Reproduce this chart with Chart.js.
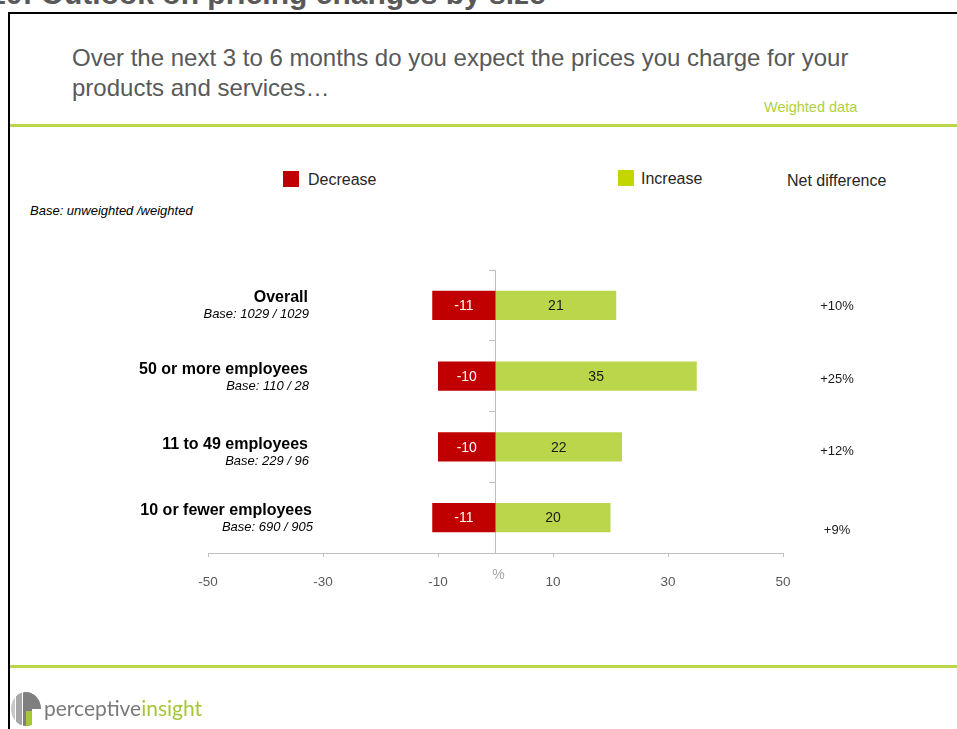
<!DOCTYPE html>
<html>
<head>
<meta charset="utf-8">
<script src="https://cdn.jsdelivr.net/npm/chart.js@4.4.1/dist/chart.umd.min.js"></script>
<style>
  html, body { margin: 0; padding: 0; background: #fff; }
  body { width: 957px; height: 729px; position: relative; overflow: hidden; font-family: Arial, "Liberation Sans", sans-serif; }
  #chart { position: absolute; left: 0; top: 0; }
  .abs { position: absolute; white-space: nowrap; }
  .frame-top { position: absolute; left: 8px; top: 12px; width: 949px; height: 2px; background: #000; }
  .frame-left { position: absolute; left: 8px; top: 12px; width: 2px; height: 717px; background: #000; }
  .rule { position: absolute; left: 10px; width: 947px; height: 3px; background: #bcd64b; }
  .swatch { position: absolute; width: 16px; height: 16px; }
</style>
</head>
<body>
<div class="abs" style="left:-36px; top:-21px; font-size:30px; line-height:30px; font-weight:bold; color:#595959;">4.10: Outlook on pricing changes by size</div>
<div class="frame-top"></div>
<div class="frame-left"></div>

<div class="abs" style="left:72px; top:43px; font-size:24px; line-height:30px; color:#595959;">Over the next 3 to 6 months do you expect the prices you charge for your<br>products and services…</div>
<div class="abs" style="left:764px; top:99px; font-size:14.5px; line-height:16px; color:#b2cf3f;">Weighted data</div>
<div class="rule" style="top:124px;"></div>

<div class="swatch" style="left:283px; top:171px; background:#c00000;"></div>
<div class="abs" style="left:308px; top:171px; font-size:16px; line-height:18px; color:#262626;">Decrease</div>
<div class="swatch" style="left:618px; top:170px; background:#c4d600;"></div>
<div class="abs" style="left:641px; top:170px; font-size:16px; line-height:18px; color:#262626;">Increase</div>
<div class="abs" style="left:787px; top:172px; font-size:16px; line-height:18px; color:#262626;">Net difference</div>
<div class="abs" style="left:30px; top:203px; font-size:13px; line-height:16px; font-style:italic; color:#000;">Base: unweighted /weighted</div>

<canvas id="chart" width="957" height="729"></canvas>

<div class="rule" style="top:665px;"></div>
<svg class="abs" style="left:10px; top:691px;" width="32" height="36" viewBox="0 0 32 36">
  <defs><clipPath id="c"><ellipse cx="16" cy="18" rx="15" ry="17"/></clipPath></defs>
  <g clip-path="url(#c)">
    <rect x="0" y="0" width="5" height="36" fill="#c8c8c8"/>
    <rect x="6" y="0" width="6" height="36" fill="#a6a6a6"/>
    <rect x="13" y="0" width="9" height="36" fill="#7f7f7f"/>
    <rect x="22" y="3" width="9" height="15" fill="#7f7f7f"/>
    <rect x="16" y="20" width="6" height="16" fill="#a5c639"/>
  </g>
</svg>
<div class="abs" style="left:44px; top:696px; font-family:Lato, 'Open Sans', sans-serif; font-size:21px; line-height:24px; color:#7a7a7a;">perceptive<span style="color:#a5c639;">insight</span></div>

<script>
// Survey groups and their shares (%) expecting price moves
const categories = ['Overall', '50 or more employees', '11 to 49 employees', '10 or fewer employees'];
const bases = ['Base: 1029 / 1029', 'Base: 110 / 28', 'Base: 229 / 96', 'Base: 690 / 905'];
const decrease = [-11, -10, -10, -11];
const increase = [21, 35, 22, 20];
const xTicks = [-50, -30, -10, 10, 30, 50];

// Small vertical nudges for the side text blocks
const labelNudge = [0, 1, 6, 1];
const netNudge = [1, 3, 5, 13];

const FONT = 'Arial, "Liberation Sans", sans-serif';

const sideText = {
  id: 'sideText',
  afterDatasetsDraw(chart) {
    const ctx = chart.ctx;
    const x = chart.scales.x, y = chart.scales.y;
    ctx.save();

    // values inside the bars
    chart.data.datasets.forEach((ds, di) => {
      const meta = chart.getDatasetMeta(di);
      meta.data.forEach((bar, i) => {
        ctx.font = '14px ' + FONT;
        ctx.textAlign = 'center';
        ctx.textBaseline = 'middle';
        ctx.fillStyle = di === 0 ? '#ffffff' : '#1a1a1a';
        ctx.fillText(String(ds.data[i]), (bar.x + bar.base) / 2, bar.y + 1);
      });
    });

    // group names and bases on the left
    categories.forEach((name, i) => {
      const cy = y.getPixelForValue(i) + labelNudge[i];
      ctx.textAlign = 'right';
      ctx.textBaseline = 'middle';
      ctx.fillStyle = '#000';
      ctx.font = 'bold 16px ' + FONT;
      ctx.fillText(name, 308 + (i === 3 ? 4 : 0), cy - 8);
      ctx.font = 'italic 13px ' + FONT;
      ctx.fillText(bases[i], 309 + (i === 3 ? 4 : 0), cy + 9);
    });

    // net difference column
    categories.forEach((name, i) => {
      const net = increase[i] + decrease[i];
      const cy = y.getPixelForValue(i) + netNudge[i];
      ctx.textAlign = 'center';
      ctx.textBaseline = 'middle';
      ctx.fillStyle = '#1a1a1a';
      ctx.font = '13px ' + FONT;
      ctx.fillText((net > 0 ? '+' : '') + net + '%', 837, cy);
    });

    // unit marker next to the zero line
    ctx.font = '14px ' + FONT;
    ctx.fillStyle = '#a6a6a6';
    ctx.textAlign = 'center';
    ctx.textBaseline = 'middle';
    ctx.fillText('%', x.getPixelForValue(0) + 3, 575);
    ctx.restore();
  }
};

new Chart(document.getElementById('chart'), {
  type: 'bar',
  data: {
    labels: categories,
    datasets: [
      { label: 'Decrease', data: decrease, backgroundColor: '#c00000', barPercentage: 0.41, categoryPercentage: 1 },
      { label: 'Increase', data: increase, backgroundColor: '#bcd64b', barPercentage: 0.41, categoryPercentage: 1 }
    ]
  },
  options: {
    indexAxis: 'y',
    responsive: false,
    animation: false,
    layout: { padding: { left: 208, right: 174, top: 270, bottom: 136 } },
    plugins: { legend: { display: false }, tooltip: { enabled: false } },
    scales: {
      x: {
        type: 'linear',
        stacked: true,
        min: -50,
        max: 50,
        afterBuildTicks(scale) { scale.ticks = xTicks.map(v => ({ value: v })); },
        afterFit(scale) { scale.height = 40; },
        grid: { drawOnChartArea: false, drawTicks: true, tickLength: 4, color: '#bfbfbf' },
        border: { color: '#bfbfbf', width: 1 },
        ticks: { padding: 17, color: '#595959', font: { family: FONT, size: 13.5 } }
      },
      y: {
        type: 'category',
        stacked: true,
        position: { x: 0 },
        offset: true,
        grid: { drawOnChartArea: false, drawTicks: true, tickLength: 6, offset: true, color: '#bfbfbf' },
        border: { color: '#bfbfbf', width: 1 },
        ticks: { display: false }
      }
    }
  },
  plugins: [sideText]
});
</script>
</body>
</html>
